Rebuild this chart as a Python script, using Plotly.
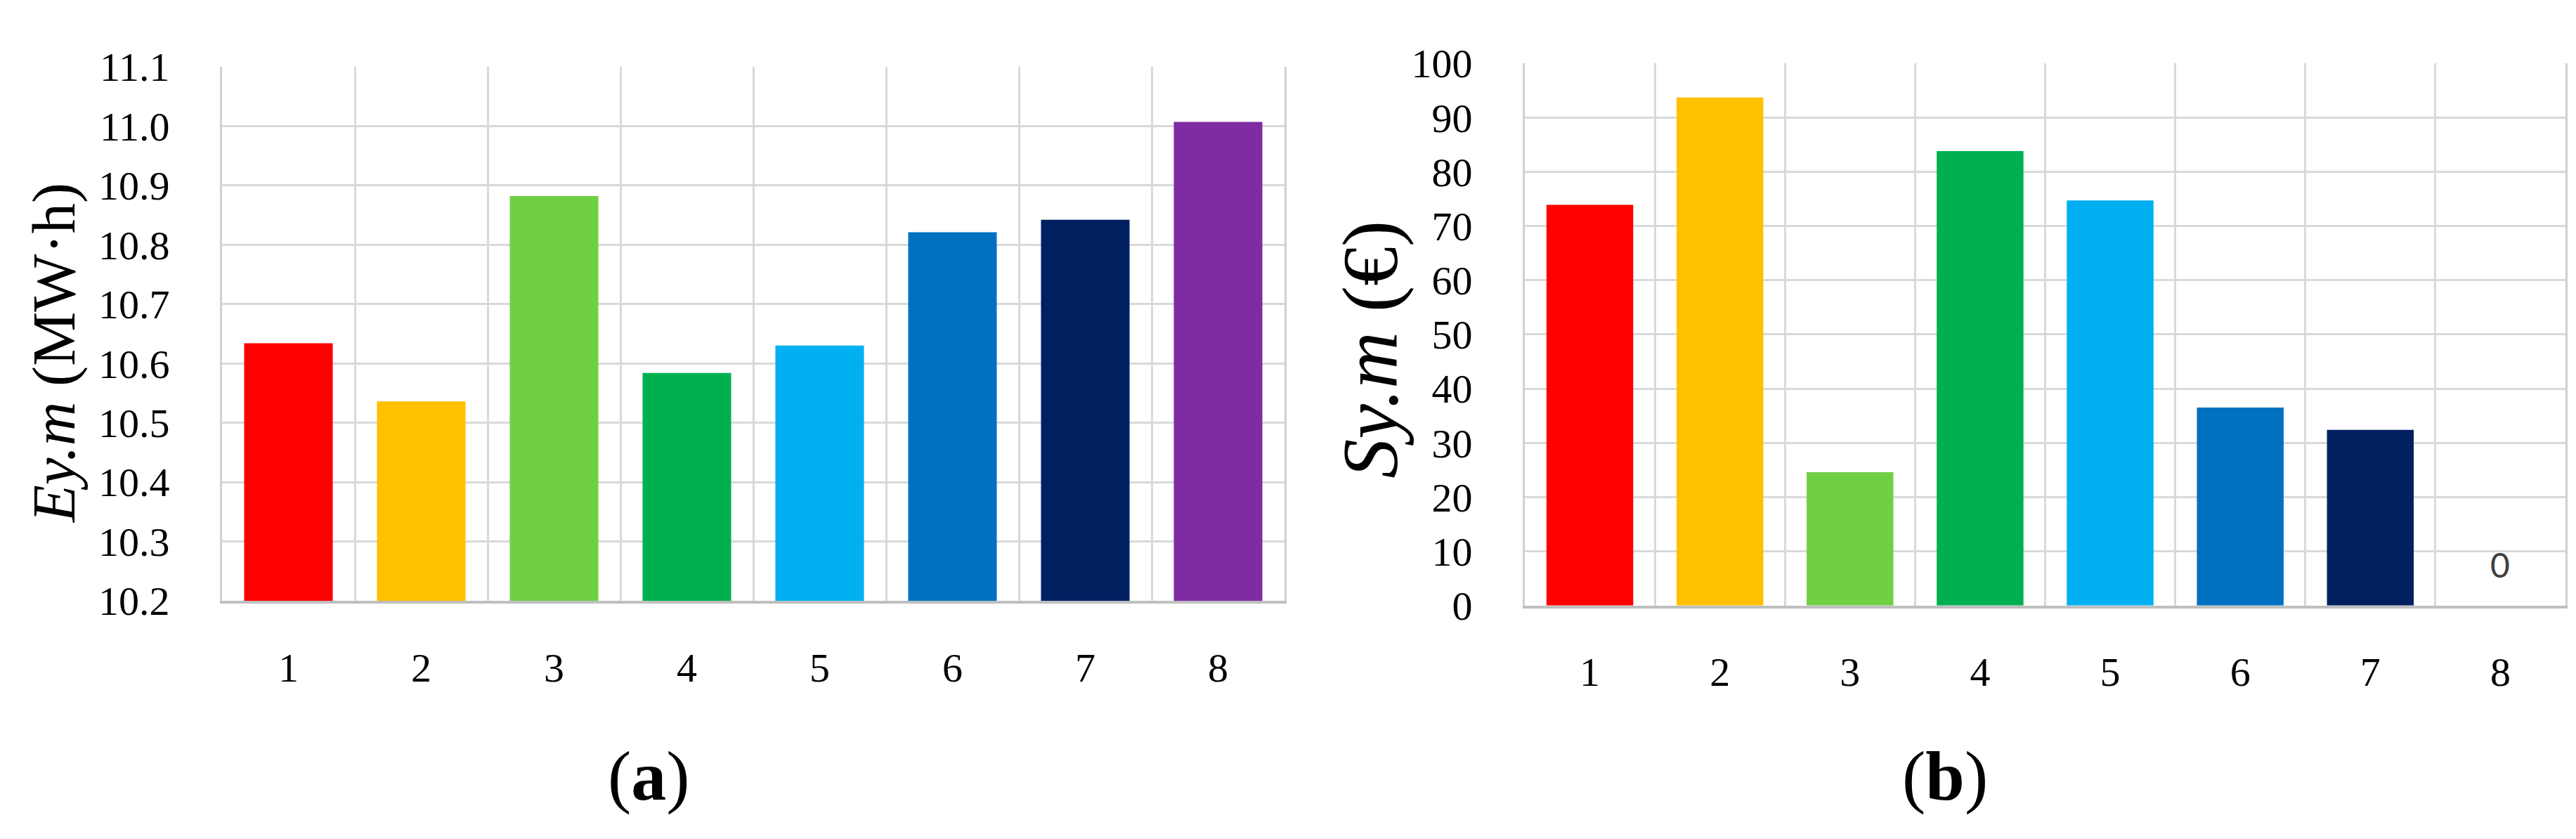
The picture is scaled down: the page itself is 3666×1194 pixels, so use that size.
import plotly.graph_objects as go

categories = ["1", "2", "3", "4", "5", "6", "7", "8"]
bar_colors = ["#FF0000", "#FFC000", "#70D044", "#00B050",
              "#00B0F0", "#0070C0", "#002060", "#7F2CA2"]

energy_values = [10.634, 10.536, 10.882, 10.584, 10.630, 10.821, 10.842, 11.007]
cost_values = [73.9, 93.7, 24.6, 83.8, 74.7, 36.5, 32.4, 0]

energy_title = "<i>Ey.m</i> (MW·h)"
cost_title = "<i>Sy.m</i> (€)"
panel_labels = ["(<b>a</b>)", "(<b>b</b>)"]

W, H = 3666, 1194
SERIF = "Liberation Serif"
GRID = "#d9d9d9"

# numeric positions so the grid can sit on the category boundaries
xpos = list(range(1, len(categories) + 1))
bounds = [p - 0.5 for p in xpos] + [xpos[-1] + 0.5]


def px_x(v):
    return v / W


def px_y(v):
    return 1 - v / H


fig = go.Figure()

fig.add_trace(go.Bar(
    x=xpos, y=energy_values, marker_color=bar_colors,
    marker_line_width=0, xaxis="x", yaxis="y", showlegend=False,
))
fig.add_trace(go.Bar(
    x=xpos, y=cost_values, marker_color=bar_colors,
    marker_line_width=0, xaxis="x2", yaxis="y2", showlegend=False,
))

xcommon = dict(
    type="linear", range=[bounds[0], bounds[-1]],
    tickmode="array", tickvals=xpos, ticktext=categories,
    showgrid=False,
    minor=dict(tickmode="array", tickvals=bounds, showgrid=True,
               gridcolor=GRID, gridwidth=3, ticks=""),
    showline=True, linecolor="#bfbfbf", linewidth=4,
    ticks="", ticklabelstandoff=41,
    tickfont=dict(family=SERIF, size=58, color="black"),
    zeroline=False,
)
ycommon = dict(
    showgrid=True, gridcolor=GRID, gridwidth=3,
    showline=True, linecolor="#d0d0d0", linewidth=3, mirror=True,
    ticks="", ticklabelstandoff=60,
    tickfont=dict(family=SERIF, size=58, color="black"),
    zeroline=False,
)

fig.update_layout(
    width=W, height=H, autosize=False,
    margin=dict(l=0, r=0, t=0, b=0),
    paper_bgcolor="white", plot_bgcolor="white",
    bargap=0.333,
    xaxis=dict(xcommon, domain=[px_x(308), px_x(1820)], anchor="y"),
    yaxis=dict(ycommon, domain=[px_y(862), px_y(58)], anchor="x",
               range=[10.2, 11.1], dtick=0.1, tick0=10.2, tickformat=".1f"),
    xaxis2=dict(xcommon, domain=[px_x(2162), px_x(3643)], anchor="y2"),
    yaxis2=dict(ycommon, domain=[px_y(869), px_y(53)], anchor="x2",
                range=[0, 100], dtick=10, tick0=0),
)

centered = dict(xref="paper", yref="paper", xanchor="center", yanchor="middle",
                showarrow=False)
annotations = [
    dict(centered, text=energy_title, x=px_x(68), y=px_y(490), textangle=-90,
         font=dict(family=SERIF, size=87, color="black")),
    dict(centered, text=cost_title, x=px_x(1942), y=px_y(484), textangle=-90,
         font=dict(family=SERIF, size=112, color="black")),
    dict(centered, text=panel_labels[0], x=px_x(915), y=px_y(1126),
         font=dict(family=SERIF, size=100, color="black")),
    dict(centered, text=panel_labels[1], x=px_x(2760), y=px_y(1126),
         font=dict(family=SERIF, size=100, color="black")),
]

# Excel only labels the empty bar
for pos, val in zip(xpos, cost_values):
    if val == 0:
        annotations.append(dict(
            text=str(val), x=pos, y=val, xref="x2", yref="y2",
            yshift=58, showarrow=False,
            font=dict(family="Lato", size=48, color="#404040"),
        ))

fig.update_layout(annotations=annotations)

fig.write_html("out.html")
